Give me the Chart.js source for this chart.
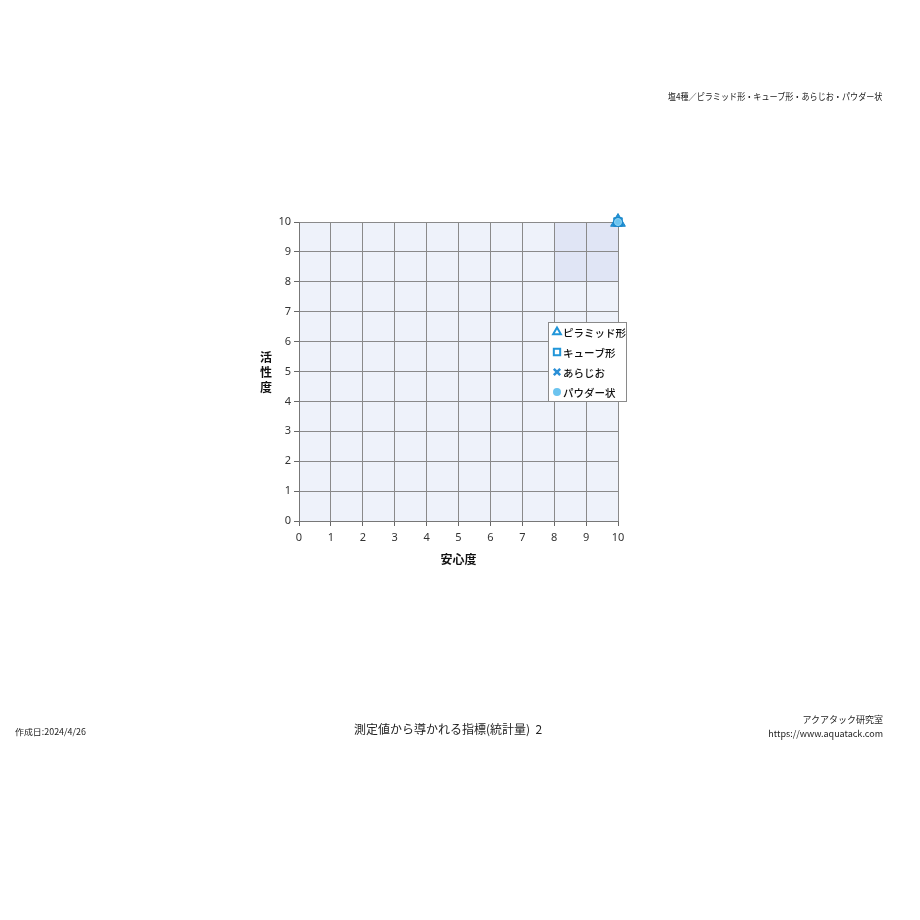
<!DOCTYPE html>
<html>
<head>
<meta charset="utf-8">
<script src="https://cdn.jsdelivr.net/npm/chart.js@4.4.1/dist/chart.umd.min.js"></script>
<style>
  body { margin: 0; background: #fff; font-family: "Noto Sans CJK JP", "Noto Sans", sans-serif; }
  #wrap { position: relative; width: 920px; height: 920px; }
  #chart { position: absolute; left: 0; top: 0; }
  .t { position: absolute; color: #222; white-space: nowrap; }
</style>
</head>
<body>
<div id="wrap">
  <canvas id="chart" width="920" height="920"></canvas>
  <div class="t" style="right:38px; top:90px; font-size:9px; transform:scaleX(0.9); transform-origin:right center;">塩4種／ピラミッド形・キューブ形・あらじお・パウダー状</div>
  <div class="t" style="left:15px; top:725px; font-size:8.5px; transform:scaleX(1.05); transform-origin:left center;">作成日:2024/4/26</div>
  <div class="t" style="left:448px; top:720px; font-size:12px; transform:translateX(-50%);">測定値から導かれる指標(統計量)&nbsp;&nbsp;2</div>
  <div class="t" style="right:37px; top:713px; font-size:9px; text-align:right; line-height:14px;">アクアタック研究室<br>https://www.aquatack.com</div>
</div>
<script>
// values: all four salts sit at (10, 10)
const seriesNames = ["ピラミッド形", "キューブ形", "あらじお", "パウダー状"];
const safety = [10, 10, 10, 10];   // 安心度 (x)
const activity = [10, 10, 10, 10]; // 活性度 (y)
const markerStyles = ["triangle", "rect", "crossRot", "circle"];
const markerColors = ["#2196d9", "#2196d9", "#2a8fd6", "#6cc4ef"];
const markerSizes = [8.5, 6, 4.5, 3.5];
const axisTicks = [0, 1, 2, 3, 4, 5, 6, 7, 8, 9, 10];
const goodZone = [8, 10, 8, 10]; // xMin, xMax, yMin, yMax

const datasets = seriesNames.map((name, i) => ({
  label: name,
  data: [{ x: safety[i], y: activity[i] }],
  clip: false,
  pointStyle: markerStyles[i],
  pointRadius: markerSizes[i],
  pointBackgroundColor: markerColors[i],
  pointBorderColor: i === 3 ? "#8fd3f3" : "#1a86c9",
  pointBorderWidth: i === 2 ? 2 : 1,
  order: 4 - i,
}));

const backdrop = {
  id: "backdrop",
  beforeDraw(chart) {
    const { ctx, chartArea: a, scales } = chart;
    ctx.save();
    ctx.fillStyle = "#eef2fa";
    ctx.fillRect(a.left, a.top, a.right - a.left, a.bottom - a.top);
    const x0 = scales.x.getPixelForValue(goodZone[0]);
    const x1 = scales.x.getPixelForValue(goodZone[1]);
    const y0 = scales.y.getPixelForValue(goodZone[3]);
    const y1 = scales.y.getPixelForValue(goodZone[2]);
    ctx.fillStyle = "#e0e5f5";
    ctx.fillRect(x0, y0, x1 - x0, y1 - y0);
    ctx.restore();
  },
  afterDraw(chart) {
    const { ctx, chartArea: a } = chart;
    ctx.save();
    // stacked y-axis title
    ctx.fillStyle = "#111";
    ctx.font = "bold 12px 'Noto Sans CJK JP'";
    ctx.textAlign = "center";
    ctx.textBaseline = "middle";
    const midY = (a.top + a.bottom) / 2;
    ["活", "性", "度"].forEach((c, i) => ctx.fillText(c, 266, midY - 14 + i * 15));

    // legend box inside the plot
    const lx = 548, ly = 322, lw = 78, lh = 79;
    ctx.fillStyle = "#fff";
    ctx.fillRect(lx, ly, lw, lh);
    ctx.strokeStyle = "#8a8a8a";
    ctx.lineWidth = 1;
    ctx.strokeRect(lx + 0.5, ly + 0.5, lw, lh);
    ctx.font = "500 10.5px 'Noto Sans CJK JP'";
    ctx.textAlign = "left";
    seriesNames.forEach((name, i) => {
      const cy = ly + 10 + i * 20;
      const opts = {
        pointStyle: markerStyles[i],
        radius: i === 3 ? 3 : 4.5,
        borderWidth: 2,
      };
      ctx.lineWidth = i === 2 ? 2.5 : 2;
      ctx.strokeStyle = markerColors[i];
      ctx.fillStyle = i === 3 ? markerColors[i] : "#fff";
      Chart.helpers.drawPoint(ctx, opts, lx + 9, cy);
      ctx.fillStyle = "#111";
      ctx.fillText(name, lx + 15, cy + 1);
    });
    ctx.restore();
  },
};

new Chart(document.getElementById("chart"), {
  type: "scatter",
  data: { datasets },
  plugins: [backdrop],
  options: {
    responsive: false,
    animation: false,
    layout: { padding: { left: 259, top: 222, right: 302, bottom: 349 } },
    plugins: { legend: { display: false }, tooltip: { enabled: false } },
    scales: {
      x: {
        min: 0,
        max: 10,
        afterFit: (s) => { s.height = 50; },
        afterBuildTicks: (s) => { s.ticks = axisTicks.map((v) => ({ value: v })); },
        ticks: { color: "#333", font: { size: 11, family: "Noto Sans" }, padding: 5, maxRotation: 0 },
        grid: { color: "#8a8a8a", tickLength: 5, tickColor: "#666" },
        border: { color: "#777" },
        title: { display: true, text: "安心度", color: "#111", font: { size: 12, weight: "bold", family: "Noto Sans CJK JP" }, padding: { top: 2 } },
      },
      y: {
        min: 0,
        max: 10,
        afterFit: (s) => { s.width = 40; },
        afterBuildTicks: (s) => { s.ticks = axisTicks.map((v) => ({ value: v })); },
        ticks: { color: "#333", font: { size: 11, family: "Noto Sans" }, padding: 3 },
        grid: { color: "#8a8a8a", tickLength: 5, tickColor: "#666" },
        border: { color: "#777" },
      },
    },
  },
});
</script>
</body>
</html>
